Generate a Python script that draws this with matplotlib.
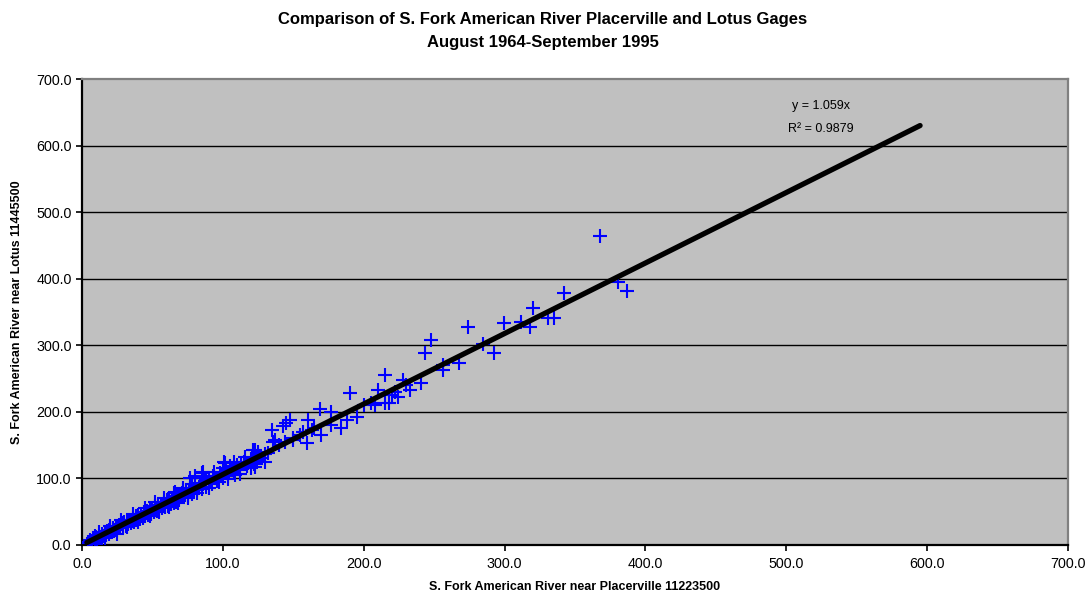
import matplotlib
matplotlib.use('Agg')
import matplotlib.pyplot as plt

plt.rcParams['font.family'] = ['Liberation Sans', 'DejaVu Sans']

# Daily flows (Placerville gage vs Lotus gage)
placerville = [
    4, 5, 6, 7, 8, 9, 10, 11, 12, 13, 14, 15, 16, 17, 18, 19, 20, 21, 22, 23,
    24, 25, 26, 27, 28, 29, 30, 31, 32, 33, 34, 35, 36, 37, 38, 39, 40, 41, 42, 43,
    44, 45, 46, 47, 48, 49, 50, 51, 52, 53, 54, 55, 56, 57, 58, 59, 60, 61, 62, 63,
    64, 65, 66, 67, 68, 69, 70, 72, 74, 75, 77, 78, 80, 82, 84, 85, 87, 88, 90, 92,
    94, 96, 98, 100, 102, 104, 106, 108, 110, 112, 115, 117, 120, 122, 125, 128,
    9, 14, 19, 24, 29, 33, 38, 44, 52, 57, 62, 66, 71, 73, 76, 79, 83, 86, 91, 95,
    99, 103, 107, 111, 113, 118, 124, 130, 132, 126,
    10, 12, 16, 20, 25, 28, 32, 36, 40, 45, 48, 52, 55, 58, 62, 65, 68, 72, 75, 78,
    82, 86, 90, 94, 97, 100, 104, 108, 112, 116, 120, 125, 130, 105, 93, 88,
    66, 72, 85, 77, 80, 86, 101.5, 108.6, 122.8, 122.8, 121.6, 101, 135.8, 134.7, 145,
    144, 137, 143, 147.7, 159.5, 160.7, 170, 177, 184, 177, 169, 188, 195, 190, 208,
    210, 215, 215, 224.5, 228, 233, 241, 243.5, 248, 256.5, 256, 267.8, 273.8, 285,
    292.5, 299.8, 312, 318, 320.4, 331, 335, 342.2, 367.7, 380.5, 386.6,
    150, 155, 163, 165, 140, 150, 157, 200, 205, 220, 230, 222, 218,
]
lotus = [
    5, 3, 8, 6, 10, 7, 12, 9, 14, 11, 16, 13, 18, 15, 21, 17, 23, 19, 25, 21,
    27, 23, 30, 25, 32, 27, 34, 29, 36, 31, 38, 33, 41, 35, 43, 37, 45, 39, 47, 41,
    49, 43, 51, 45, 54, 47, 56, 49, 58, 51, 60, 53, 62, 55, 64, 57, 67, 59, 69, 61,
    71, 63, 73, 65, 75, 67, 77, 72, 82, 74, 85, 77, 88, 82, 93, 84, 96, 87, 99, 92,
    103, 96, 108, 100, 112, 104, 116, 110, 120, 112, 125, 118, 129, 121, 133, 130,
    13, 12, 22, 22, 33, 37, 38, 44, 53, 62, 64, 68, 78, 75, 80, 81, 86, 92, 95, 101,
    103, 108, 112, 115, 121, 123, 127, 136, 138, 132,
    2, 20, 10, 28, 17, 38, 27, 46, 35, 55, 43, 64, 50, 70, 57, 78, 63, 86, 70, 92,
    78, 100, 86, 110, 94, 116, 99, 124, 106, 132, 116, 140, 125, 118, 104, 97,
    79, 82, 108, 100, 103, 110, 123, 105, 117.6, 143, 143, 125, 155, 173, 183,
    155, 158, 179, 188, 153, 188, 165, 180, 175, 200, 205, 188, 193, 229, 210,
    233, 213, 255, 223, 248, 233, 244, 289, 308, 270, 263, 274, 328, 302,
    289, 334, 335.5, 327, 355.6, 340.5, 340.5, 379, 464, 395.5, 382,
    158, 165, 172, 175, 150, 161, 170, 210, 214, 225, 240, 230, 213,
]

slope = 1.059
r2 = 0.9879
trend_x = [3.5, 595]
trend_y = [slope * v for v in trend_x]

fig = plt.figure(figsize=(10.86, 5.96), dpi=100)
ax = fig.add_axes([0.0755, 0.0856, 0.9079, 0.7818])
ax.set_facecolor('#c0c0c0')

ax.plot(placerville, lotus, linestyle='none', marker='+', color='#0000ff',
        markersize=9.5, markeredgewidth=1.5, zorder=3)
ax.plot(trend_x, trend_y, color='black', linewidth=3.8, solid_capstyle='round', zorder=4)

ax.set_xlim(0, 700)
ax.set_ylim(0, 700)
ticks = [0, 100, 200, 300, 400, 500, 600, 700]
ax.set_xticks(ticks)
ax.set_yticks(ticks)
ax.set_xticklabels(['%.1f' % t for t in ticks])
ax.set_yticklabels(['%.1f' % t for t in ticks])
ax.tick_params(direction='out', length=4, width=1.2, labelsize=10.3, colors='black')
ax.tick_params(axis='x', pad=5)

for y in ticks[1:-1]:
    ax.axhline(y, color='black', linewidth=1.0, zorder=1)

ax.spines['left'].set_color('black')
ax.spines['bottom'].set_color('black')
ax.spines['left'].set_linewidth(1.6)
ax.spines['bottom'].set_linewidth(1.6)
ax.spines['top'].set_color('#808080')
ax.spines['right'].set_color('#808080')
ax.spines['top'].set_linewidth(1.6)
ax.spines['right'].set_linewidth(1.6)

ax.text(524.6, 659, 'y = %.3fx' % slope, ha='center', va='center', fontsize=9)
ax.text(524.6, 625, 'R\u00b2 = %.4f' % r2, ha='center', va='center', fontsize=9)

fig.text(0.4995, 0.967, 'Comparison of S. Fork American River Placerville and Lotus Gages',
         ha='center', va='center', fontsize=12, fontweight='bold')
fig.text(0.4995, 0.929, 'August 1964-September 1995',
         ha='center', va='center', fontsize=12, fontweight='bold')
fig.text(0.5295, 0.015, 'S. Fork American River near Placerville 11223500',
         ha='center', va='center', fontsize=9, fontweight='bold')
fig.text(0.0157, 0.4765, 'S. Fork American River near Lotus 11445500',
         ha='center', va='center', fontsize=9, fontweight='bold', rotation=90)

fig.savefig('out.png', dpi=100)
